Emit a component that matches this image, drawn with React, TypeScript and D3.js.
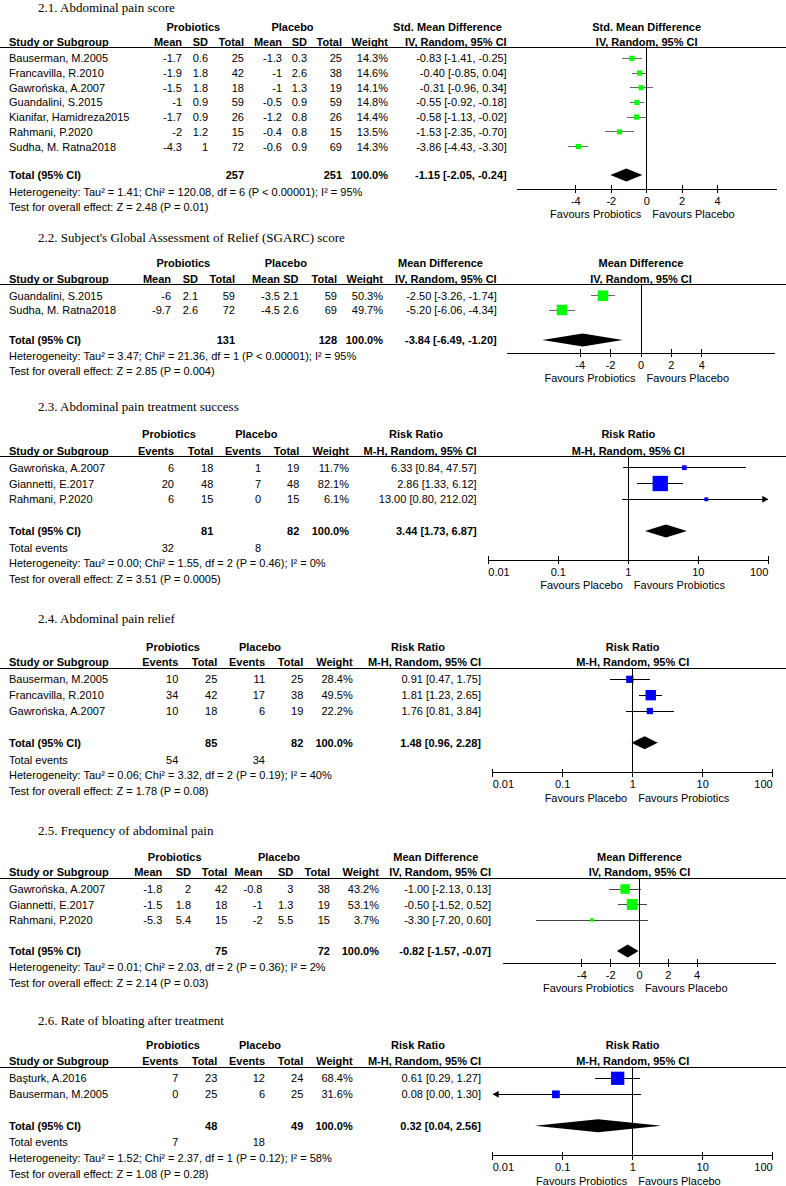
import React from "react";
import * as d3 from "d3";

// ---------- DATA ----------
type ContRow = { study: string; m1: number; sd1: number; n1: number; m2: number; sd2: number; n2: number; w: number; est: number; lo: number; hi: number };
type DichRow = { study: string; e1: number; n1: number; e2: number; n2: number; w: number; est: number; lo: number; hi: number };

const rows21: ContRow[] = [
  { study: "Bauserman, M.2005", m1: -1.7, sd1: 0.6, n1: 25, m2: -1.3, sd2: 0.3, n2: 25, w: 14.3, est: -0.83, lo: -1.41, hi: -0.25 },
  { study: "Francavilla, R.2010", m1: -1.9, sd1: 1.8, n1: 42, m2: -1, sd2: 2.6, n2: 38, w: 14.6, est: -0.4, lo: -0.85, hi: 0.04 },
  { study: "Gawrońska, A.2007", m1: -1.5, sd1: 1.8, n1: 18, m2: -1, sd2: 1.3, n2: 19, w: 14.1, est: -0.31, lo: -0.96, hi: 0.34 },
  { study: "Guandalini, S.2015", m1: -1, sd1: 0.9, n1: 59, m2: -0.5, sd2: 0.9, n2: 59, w: 14.8, est: -0.55, lo: -0.92, hi: -0.18 },
  { study: "Kianifar, Hamidreza2015", m1: -1.7, sd1: 0.9, n1: 26, m2: -1.2, sd2: 0.8, n2: 26, w: 14.4, est: -0.58, lo: -1.13, hi: -0.02 },
  { study: "Rahmani, P.2020", m1: -2, sd1: 1.2, n1: 15, m2: -0.4, sd2: 0.8, n2: 15, w: 13.5, est: -1.53, lo: -2.35, hi: -0.7 },
  { study: "Sudha, M. Ratna2018", m1: -4.3, sd1: 1, n1: 72, m2: -0.6, sd2: 0.9, n2: 69, w: 14.3, est: -3.86, lo: -4.43, hi: -3.3 },
];
const total21 = { n1: 257, n2: 251, est: -1.15, lo: -2.05, hi: -0.24 };

const rows22: ContRow[] = [
  { study: "Guandalini, S.2015", m1: -6, sd1: 2.1, n1: 59, m2: -3.5, sd2: 2.1, n2: 59, w: 50.3, est: -2.5, lo: -3.26, hi: -1.74 },
  { study: "Sudha, M. Ratna2018", m1: -9.7, sd1: 2.6, n1: 72, m2: -4.5, sd2: 2.6, n2: 69, w: 49.7, est: -5.2, lo: -6.06, hi: -4.34 },
];
const total22 = { n1: 131, n2: 128, est: -3.84, lo: -6.49, hi: -1.2 };

const rows23: DichRow[] = [
  { study: "Gawrońska, A.2007", e1: 6, n1: 18, e2: 1, n2: 19, w: 11.7, est: 6.33, lo: 0.84, hi: 47.57 },
  { study: "Giannetti, E.2017", e1: 20, n1: 48, e2: 7, n2: 48, w: 82.1, est: 2.86, lo: 1.33, hi: 6.12 },
  { study: "Rahmani, P.2020", e1: 6, n1: 15, e2: 0, n2: 15, w: 6.1, est: 13.0, lo: 0.8, hi: 212.02 },
];
const total23 = { n1: 81, n2: 82, e1: 32, e2: 8, est: 3.44, lo: 1.73, hi: 6.87 };

const rows24: DichRow[] = [
  { study: "Bauserman, M.2005", e1: 10, n1: 25, e2: 11, n2: 25, w: 28.4, est: 0.91, lo: 0.47, hi: 1.75 },
  { study: "Francavilla, R.2010", e1: 34, n1: 42, e2: 17, n2: 38, w: 49.5, est: 1.81, lo: 1.23, hi: 2.65 },
  { study: "Gawrońska, A.2007", e1: 10, n1: 18, e2: 6, n2: 19, w: 22.2, est: 1.76, lo: 0.81, hi: 3.84 },
];
const total24 = { n1: 85, n2: 82, e1: 54, e2: 34, est: 1.48, lo: 0.96, hi: 2.28 };

const rows25: ContRow[] = [
  { study: "Gawrońska, A.2007", m1: -1.8, sd1: 2, n1: 42, m2: -0.8, sd2: 3, n2: 38, w: 43.2, est: -1.0, lo: -2.13, hi: 0.13 },
  { study: "Giannetti, E.2017", m1: -1.5, sd1: 1.8, n1: 18, m2: -1, sd2: 1.3, n2: 19, w: 53.1, est: -0.5, lo: -1.52, hi: 0.52 },
  { study: "Rahmani, P.2020", m1: -5.3, sd1: 5.4, n1: 15, m2: -2, sd2: 5.5, n2: 15, w: 3.7, est: -3.3, lo: -7.2, hi: 0.6 },
];
const total25 = { n1: 75, n2: 72, est: -0.82, lo: -1.57, hi: -0.07 };

const rows26: DichRow[] = [
  { study: "Başturk, A.2016", e1: 7, n1: 23, e2: 12, n2: 24, w: 68.4, est: 0.61, lo: 0.29, hi: 1.27 },
  { study: "Bauserman, M.2005", e1: 0, n1: 25, e2: 6, n2: 25, w: 31.6, est: 0.08, lo: 0.0, hi: 1.3 },
];
const total26 = { n1: 48, n2: 49, e1: 7, e2: 18, est: 0.32, lo: 0.04, hi: 2.56 };

const titles = [
  "2.1. Abdominal pain score",
  "2.2. Subject's Global Assessment of Relief (SGARC) score",
  "2.3. Abdominal pain treatment success",
  "2.4. Abdominal pain relief",
  "2.5. Frequency of abdominal pain",
  "2.6. Rate of bloating after treatment",
];
const hetTexts = [
  "Heterogeneity: Tau² = 1.41; Chi² = 120.08, df = 6 (P < 0.00001); I² = 95%",
  "Heterogeneity: Tau² = 3.47; Chi² = 21.36, df = 1 (P < 0.00001); I² = 95%",
  "Heterogeneity: Tau² = 0.00; Chi² = 1.55, df = 2 (P = 0.46); I² = 0%",
  "Heterogeneity: Tau² = 0.06; Chi² = 3.32, df = 2 (P = 0.19); I² = 40%",
  "Heterogeneity: Tau² = 0.01; Chi² = 2.03, df = 2 (P = 0.36); I² = 2%",
  "Heterogeneity: Tau² = 1.52; Chi² = 2.37, df = 1 (P = 0.12); I² = 58%",
];
const testTexts = [
  "Test for overall effect: Z = 2.48 (P = 0.01)",
  "Test for overall effect: Z = 2.85 (P = 0.004)",
  "Test for overall effect: Z = 3.51 (P = 0.0005)",
  "Test for overall effect: Z = 1.78 (P = 0.08)",
  "Test for overall effect: Z = 2.14 (P = 0.03)",
  "Test for overall effect: Z = 1.08 (P = 0.28)",
];
const contHeads = ["Mean", "SD", "Total", "Mean", "SD", "Total", "Weight"];
const dichHeads = ["Events", "Total", "Events", "Total", "Weight"];
const linTicks = [-4, -2, 0, 2, 4];
const logTicks = [0.01, 0.1, 1, 10, 100];

// ---------- LAYOUT ----------
type Layout = {
  titleY: number; groupY: number; headY: number; lineY: number;
  row0: number; rowStep: number; totalY: number; eventsY?: number; hetY: number; testY: number;
  cols: number[]; ciRight: number; groupX: [number, number]; effX: number;
  axis: [number, number]; domain?: [number, number]; axisY: number;
  lineColor: string;
};

const panels = [
  {
    kind: "cont", rows: rows21, total: total21, effect: "Std. Mean Difference", method: "IV, Random, 95% CI",
    color: "#00ff00", favL: "Favours Probiotics", favR: "Favours Placebo",
    L: { titleY: 7.5, groupY: 27.3, headY: 42.3, lineY: 47.7, row0: 58.3, rowStep: 14.7, totalY: 175, hetY: 192.3, testY: 206.7,
      cols: [182, 208, 244, 282, 307, 342, 388], ciRight: 506.7, groupX: [193.3, 292.5], effX: 447.5,
      axis: [516.7, 776.7], domain: [-7.34, 7.34], axisY: 189, lineColor: "#666" } as Layout,
  },
  {
    kind: "cont", rows: rows22, total: total22, effect: "Mean Difference", method: "IV, Random, 95% CI",
    color: "#00ff00", favL: "Favours Probiotics", favR: "Favours Placebo",
    L: { titleY: 237.7, groupY: 262.7, headY: 279, lineY: 284, row0: 295.7, rowStep: 14.3, totalY: 340, hetY: 356, testY: 371,
      cols: [171, 198, 235, 280, 298.5, 337, 383], ciRight: 496.7, groupX: [183.3, 285.8], effX: 440.5,
      axis: [507.2, 774.8], domain: [-8.8, 8.8], axisY: 353.3, lineColor: "#666" } as Layout,
  },
  {
    kind: "dich", rows: rows23, total: total23, effect: "Risk Ratio", method: "M-H, Random, 95% CI",
    color: "#0000ff", favL: "Favours Placebo", favR: "Favours Probiotics",
    L: { titleY: 406.7, groupY: 434.3, headY: 450.7, lineY: 456.7, row0: 467.7, rowStep: 15.8, totalY: 531, eventsY: 547.7, hetY: 563.3, testY: 579,
      cols: [174, 213.3, 261, 299.3, 349], ciRight: 476.7, groupX: [169, 256.3], effX: 416,
      axis: [488.3, 768.3], axisY: 560, lineColor: "#000" } as Layout,
  },
  {
    kind: "dich", rows: rows24, total: total24, effect: "Risk Ratio", method: "M-H, Random, 95% CI",
    color: "#0000ff", favL: "Favours Placebo", favR: "Favours Probiotics",
    L: { titleY: 618.3, groupY: 646.7, headY: 662.3, lineY: 668.3, row0: 679.3, rowStep: 15.85, totalY: 742.7, eventsY: 760, hetY: 775, testY: 790.5,
      cols: [178.3, 217.3, 265, 303.3, 352.7], ciRight: 481, groupX: [173, 260], effX: 418,
      axis: [492.7, 772.7], axisY: 772.7, lineColor: "#000" } as Layout,
  },
  {
    kind: "cont", rows: rows25, total: total25, effect: "Mean Difference", method: "IV, Random, 95% CI",
    color: "#00ff00", favL: "Favours Probiotics", favR: "Favours Placebo",
    L: { titleY: 830, groupY: 857.3, headY: 872.3, lineY: 878.3, row0: 889, rowStep: 15.5, totalY: 951, hetY: 966.7, testY: 982.7,
      cols: [162.3, 191, 227.3, 262.5, 293.3, 330, 379], ciRight: 491, groupX: [174.7, 279], effX: 435.8,
      axis: [503.3, 775.7], domain: [-9.46, 9.46], axisY: 963.3, lineColor: "#444" } as Layout,
  },
  {
    kind: "dich", rows: rows26, total: total26, effect: "Risk Ratio", method: "M-H, Random, 95% CI",
    color: "#0000ff", favL: "Favours Probiotics", favR: "Favours Placebo",
    L: { titleY: 1020, groupY: 1045, headY: 1061, lineY: 1067.3, row0: 1078.3, rowStep: 16, totalY: 1125.7, eventsY: 1142.3, hetY: 1158.3, testY: 1174,
      cols: [178.3, 217.3, 265, 303.3, 352.7], ciRight: 481, groupX: [173, 260], effX: 418,
      axis: [492.7, 772.7], axisY: 1155.7, lineColor: "#000" } as Layout,
  },
];

const SANS = "'Liberation Sans', Arimo, Arial, sans-serif";
const SERIF = "'Liberation Serif', 'Times New Roman', serif";
const ciText = (e: number, l: number, h: number) => `${e.toFixed(2)} [${l.toFixed(2)}, ${h.toFixed(2)}]`;

function Panel({ p, idx }: { p: any; idx: number }) {
  const L: Layout = p.L;
  const isLog = p.kind === "dich";
  const x: any = isLog
    ? d3.scaleLog().domain([0.01, 100]).range(L.axis)
    : d3.scaleLinear().domain(L.domain as [number, number]).range(L.axis);
  const [xmin, xmax] = L.axis;
  const nullX = x(isLog ? 1 : 0);
  const plotC = (xmin + xmax) / 2;
  const size = d3.scaleLinear().domain([0, 100]).range([3, 18]);
  const b = (c: number) => c + 4;
  const heads = isLog ? dichHeads : contHeads;
  const ticks = isLog ? logTicks : linTicks;
  const nCols = heads.length;

  const cellsOf = (r: any): string[] =>
    isLog
      ? [String(r.e1), String(r.n1), String(r.e2), String(r.n2), r.w.toFixed(1) + "%"]
      : [String(r.m1), String(r.sd1), String(r.n1), String(r.m2), String(r.sd2), String(r.n2), r.w.toFixed(1) + "%"];

  const totalCells: { [k: number]: string } = isLog
    ? { 1: String(p.total.n1), 3: String(p.total.n2), 4: "100.0%" }
    : { 2: String(p.total.n1), 5: String(p.total.n2), 6: "100.0%" };

  const ty = L.totalY;
  const t = p.total;

  return (
    <g>
      <text x={38} y={L.titleY + 4.5} fontFamily={SERIF} fontSize={13}>{titles[idx]}</text>
      {/* group headers */}
      <g fontWeight="bold">
        <text x={L.groupX[0]} y={b(L.groupY)} textAnchor="middle">Probiotics</text>
        <text x={L.groupX[1]} y={b(L.groupY)} textAnchor="middle">Placebo</text>
        <text x={L.effX} y={b(L.groupY)} textAnchor="middle">{p.effect}</text>
        <text x={plotC} y={b(L.groupY)} textAnchor="middle">{p.effect}</text>
        <text x={9} y={b(L.headY)}>Study or Subgroup</text>
        {heads.map((h, i) => (
          <text key={i} x={L.cols[i]} y={b(L.headY)} textAnchor="end">{h}</text>
        ))}
        <text x={L.ciRight} y={b(L.headY)} textAnchor="end">{p.method}</text>
        <text x={plotC} y={b(L.headY)} textAnchor="middle">{p.method}</text>
      </g>
      <line x1={0} x2={786} y1={L.lineY} y2={L.lineY} stroke="#000" strokeWidth={1} shapeRendering="crispEdges" />
      {/* study rows */}
      {p.rows.map((r: any, i: number) => {
        const y = L.row0 + i * L.rowStep;
        const cells = cellsOf(r);
        const loOut = isLog ? r.lo <= 0 || r.lo < 0.01 : r.lo < (L.domain as number[])[0];
        const hiOut = isLog ? r.hi > 100 : r.hi > (L.domain as number[])[1];
        const x1 = loOut ? xmin : x(r.lo);
        const x2 = hiOut ? xmax : x(r.hi);
        const s = size(r.w);
        return (
          <g key={i}>
            <text x={9} y={b(y)}>{r.study}</text>
            {cells.map((c, j) => (
              <text key={j} x={L.cols[j]} y={b(y)} textAnchor="end">{c}</text>
            ))}
            <text x={L.ciRight} y={b(y)} textAnchor="end">{ciText(r.est, r.lo, r.hi)}</text>
            <line x1={x1} x2={x2} y1={y} y2={y} stroke={L.lineColor} strokeWidth={1} shapeRendering="crispEdges" />
            {hiOut && <path d={`M${xmax},${y}L${xmax - 6},${y - 3.5}L${xmax - 6},${y + 3.5}Z`} fill="#000" />}
            {loOut && <path d={`M${xmin},${y}L${xmin + 6},${y - 3.5}L${xmin + 6},${y + 3.5}Z`} fill="#000" />}
            <rect x={x(r.est) - s / 2} y={y - s / 2} width={s} height={s} fill={p.color} />
          </g>
        );
      })}
      {/* total row */}
      <g fontWeight="bold">
        <text x={9} y={b(ty)}>Total (95% CI)</text>
        {Array.from({ length: nCols }, (_, j) =>
          totalCells[j] ? (
            <text key={j} x={L.cols[j]} y={b(ty)} textAnchor="end">{totalCells[j]}</text>
          ) : null
        )}
        <text x={L.ciRight} y={b(ty)} textAnchor="end">{ciText(t.est, t.lo, t.hi)}</text>
      </g>
      <path
        d={`M${x(t.lo)},${ty}L${x(t.est)},${ty - 6.5}L${x(t.hi)},${ty}L${x(t.est)},${ty + 6.5}Z`}
        fill="#000"
      />
      {isLog && L.eventsY !== undefined && (
        <g>
          <text x={9} y={b(L.eventsY)}>Total events</text>
          <text x={L.cols[0]} y={b(L.eventsY)} textAnchor="end">{String(t.e1)}</text>
          <text x={L.cols[2]} y={b(L.eventsY)} textAnchor="end">{String(t.e2)}</text>
        </g>
      )}
      <text x={9} y={b(L.hetY)}>{hetTexts[idx]}</text>
      <text x={9} y={b(L.testY)}>{testTexts[idx]}</text>
      {/* null line */}
      <line x1={nullX} x2={nullX} y1={L.lineY} y2={L.axisY} stroke="#000" strokeWidth={1} shapeRendering="crispEdges" />
      {/* axis */}
      <line x1={xmin} x2={xmax} y1={L.axisY} y2={L.axisY} stroke="#000" strokeWidth={1} shapeRendering="crispEdges" />
      {ticks.map((tv, i) => {
        const tx = x(tv);
        const anchor = isLog ? (i === 0 ? "start" : i === ticks.length - 1 ? "end" : "middle") : "middle";
        return (
          <g key={i}>
            <line x1={tx} x2={tx} y1={L.axisY - 4} y2={L.axisY + 4} stroke="#000" strokeWidth={1} shapeRendering="crispEdges" />
            <text x={tx} y={b(L.axisY + 11.5)} textAnchor={anchor}>{String(tv)}</text>
          </g>
        );
      })}
      <text x={nullX - 5.5} y={b(L.axisY + 25)} textAnchor="end">{p.favL}</text>
      <text x={nullX + 5.5} y={b(L.axisY + 25)} textAnchor="start">{p.favR}</text>
    </g>
  );
}

export default function App() {
  return (
    <svg
      width={786}
      height={1186}
      style={{ position: "absolute", left: 0, top: 0, background: "#fff" }}
      fontFamily={SANS}
      fontSize={11}
      fill="#000"
    >
      <rect x={0} y={0} width={786} height={1186} fill="#fff" />
      {panels.map((p, i) => (
        <Panel key={i} p={p} idx={i} />
      ))}
    </svg>
  );
}
